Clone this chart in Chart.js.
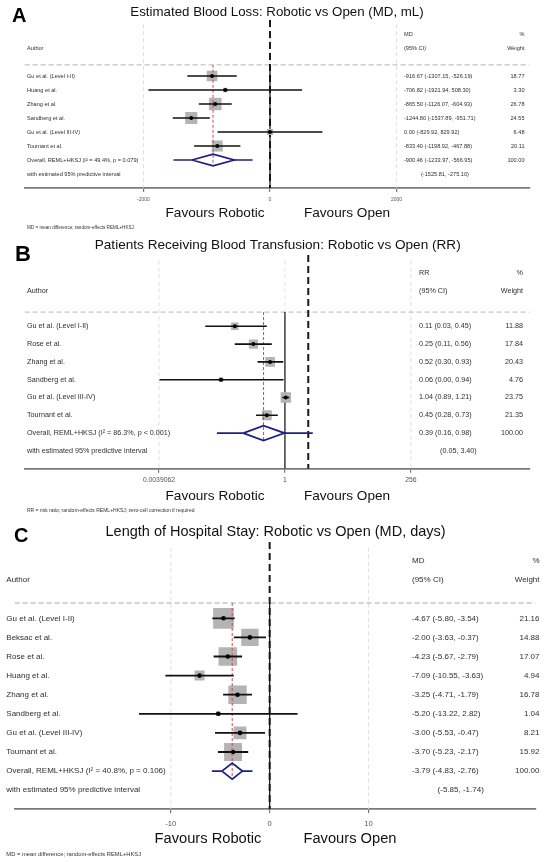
<!DOCTYPE html>
<html>
<head>
<meta charset="utf-8">
<script src="https://cdn.jsdelivr.net/npm/chart.js@4.4.1/dist/chart.umd.min.js"></script>
<style>
  body { margin: 0; background: #fff; }
  #wrap { position: relative; width: 550px; height: 862px; overflow: hidden; }
  canvas { position: absolute; left: 0; }
</style>
</head>
<body>
<div id="wrap">
  <canvas id="chartA" width="550" height="240" style="top:0px"></canvas>
  <canvas id="chartB" width="550" height="280" style="top:240px"></canvas>
  <canvas id="chartC" width="550" height="342" style="top:520px"></canvas>
</div>
<script>
// A - estimated blood loss (MD, mL)
var bloodLossStudies = ['Gu et al. (Level I-II)', 'Huang et al.', 'Zhang et al.', 'Sandberg et al.', 'Gu et al. (Level III-IV)', 'Tournant et al.'];
var bloodLossMD = [-916.67, -706.82, -865.50, -1244.80, 0.00, -833.40];
var bloodLossLow = [-1307.15, -1921.94, -1126.07, -1537.89, -829.92, -1198.92];
var bloodLossHigh = [-526.19, 508.30, -604.93, -951.71, 829.92, -467.88];
var bloodLossWeight = [18.77, 3.30, 26.78, 24.55, 6.48, 20.11];
var bloodLossOverall = [-900.46, -1233.97, -566.95];
var bloodLossPI = [-1525.81, -275.10];
var bloodLossTicks = [-2000, 0, 2000];
var bloodLossTickLabels = ['-2000', '0', '2000'];

// B - patients receiving blood transfusion (RR)
var transfusionStudies = ['Gu et al. (Level I-II)', 'Rose et al.', 'Zhang et al.', 'Sandberg et al.', 'Gu et al. (Level III-IV)', 'Tournant et al.'];
var transfusionRR = [0.11, 0.25, 0.52, 0.06, 1.04, 0.45];
var transfusionLow = [0.03, 0.11, 0.30, 0.004, 0.89, 0.28];
var transfusionHigh = [0.45, 0.56, 0.93, 0.94, 1.21, 0.73];
var transfusionWeight = [11.88, 17.84, 20.43, 4.76, 23.75, 21.35];
var transfusionOverall = [0.39, 0.16, 0.98];
var transfusionPI = [0.05, 3.40];
var transfusionTicks = [0.00390625, 1, 256];
var transfusionTickLabels = ['0.0039062', '1', '256'];

// C - length of hospital stay (MD, days)
var stayStudies = ['Gu et al. (Level I-II)', 'Beksac et al.', 'Rose et al.', 'Huang et al.', 'Zhang et al.', 'Sandberg et al.', 'Gu et al. (Level III-IV)', 'Tournant et al.'];
var stayMD = [-4.67, -2.00, -4.23, -7.09, -3.25, -5.20, -3.00, -3.70];
var stayLow = [-5.80, -3.63, -5.67, -10.55, -4.71, -13.22, -5.53, -5.23];
var stayHigh = [-3.54, -0.37, -2.79, -3.63, -1.79, 2.82, -0.47, -2.17];
var stayWeight = [21.16, 14.88, 17.07, 4.94, 16.78, 1.04, 8.21, 15.92];
var stayOverall = [-3.79, -4.83, -2.76];
var stayPI = [-5.85, -1.74];
var stayTicks = [-10, 0, 10];
var stayTickLabels = ['-10', '0', '10'];

var FONT = '"Liberation Sans", Arial, sans-serif';
var NAVY = '#1f1f8a';

function seg(x1, y1, x2, y2, color, width, dash) {
    return {
        data: [{ x: x1, y: y1 }, { x: x2, y: y2 }],
        showLine: true,
        borderColor: color,
        borderWidth: width,
        borderDash: dash || [],
        pointRadius: 0,
        fill: false
    };
}

function ciText(e, l, h) {
    return e.toFixed(2) + ' (' + l.toFixed(2) + ', ' + h.toFixed(2) + ')';
}

function forest(id, p) {
    var n = p.studies.length;
    var ds = [];
    // light grid lines at the ticks
    p.ticks.forEach(function (t) {
        ds.push(seg(t, -3.7, t, n + 2, '#d8d8d8', 0.8, [4, 3]));
    });
    // dashed line under the header
    ds.push(seg(p.xMin, -0.8, p.xMax, -0.8, '#c4c4c4', 1.3, [5, 3]));
    // thick dashed separator
    ds.push(seg(p.sep, -4, p.sep, n + 2, '#1a1a1a', 2, [7, 4]));
    // line of no effect
    ds.push(seg(p.nullX, -0.8, p.nullX, n + 2, '#111', 1.2));
    // boxes sized by weight
    ds.push({
        data: p.est.map(function (v, i) { return { x: v, y: i }; }),
        pointStyle: 'rect',
        pointRadius: p.weight.map(function (w) { return p.boxK * Math.sqrt(w) / Math.SQRT2; }),
        backgroundColor: '#b4b4b4',
        pointBackgroundColor: '#b4b4b4',
        pointBorderWidth: 0
    });
    // overall estimate line
    ds.push(seg(p.overall[0], -0.8, p.overall[0], n + 0.42, '#cc4a52', 1, [3, 2]));
    // confidence intervals
    p.est.forEach(function (v, i) {
        ds.push(seg(p.low[i], i, p.high[i], i, '#111', p.lineW));
    });
    ds.push({
        data: p.est.map(function (v, i) { return { x: v, y: i }; }),
        pointStyle: 'circle',
        pointRadius: p.dotR,
        backgroundColor: '#000',
        pointBackgroundColor: '#000',
        pointBorderWidth: 0
    });
    // predictive interval + diamond
    ds.push(seg(p.pi[0], n, p.overall[1], n, NAVY, 1.6));
    ds.push(seg(p.overall[2], n, p.pi[1], n, NAVY, 1.6));
    ds.push({
        data: [
            { x: p.overall[1], y: n },
            { x: p.overall[0], y: n - 0.42 },
            { x: p.overall[2], y: n },
            { x: p.overall[0], y: n + 0.42 },
            { x: p.overall[1], y: n }
        ],
        showLine: true,
        borderColor: NAVY,
        borderWidth: 1.8,
        pointRadius: 0,
        tension: 0
    });
    ds.forEach(function (d, i) { d.order = -i; });

    var textPlugin = {
        id: 'forestText',
        afterDraw: function (chart) {
            var ctx = chart.ctx;
            var ys = chart.scales.y;
            var bottom = chart.chartArea.bottom;
            ctx.save();
            ctx.textBaseline = 'middle';
            ctx.fillStyle = '#000';
            ctx.textAlign = 'left';
            ctx.font = 'bold ' + p.letterFont + 'px ' + FONT;
            ctx.fillText(p.letter, p.letterX, p.letterY);
            ctx.textAlign = 'center';
            ctx.font = p.titleFont + 'px ' + FONT;
            ctx.fillStyle = '#111';
            ctx.fillText(p.title, p.titleX, p.titleY);

            ctx.font = p.rowFont + 'px ' + FONT;
            ctx.fillStyle = '#2e2e2e';
            var h1 = ys.getPixelForValue(-3), h2 = ys.getPixelForValue(-2);
            ctx.textAlign = 'left';
            ctx.fillText(p.effect, p.ciX, h1);
            ctx.fillText('Author', p.authorX, h2);
            ctx.fillText('(95% CI)', p.ciX, h2);
            ctx.textAlign = 'right';
            ctx.fillText('%', p.wtX, h1);
            ctx.fillText('Weight', p.wtX, h2);
            for (var i = 0; i < n; i++) {
                var y = ys.getPixelForValue(i);
                ctx.textAlign = 'left';
                ctx.fillText(p.studies[i], p.authorX, y);
                ctx.fillText(ciText(p.est[i], p.low[i], p.high[i]), p.ciX, y);
                ctx.textAlign = 'right';
                ctx.fillText(p.weight[i].toFixed(2), p.wtX, y);
            }
            var yo = ys.getPixelForValue(n), yp = ys.getPixelForValue(n + 1);
            ctx.textAlign = 'left';
            ctx.fillText(p.overallLabel, p.authorX, yo);
            ctx.fillText(ciText(p.overall[0], p.overall[1], p.overall[2]), p.ciX, yo);
            ctx.fillText('with estimated 95% predictive interval', p.authorX, yp);
            ctx.fillText('(' + p.pi[0].toFixed(2) + ', ' + p.pi[1].toFixed(2) + ')', p.piX, yp);
            ctx.textAlign = 'right';
            ctx.fillText((100).toFixed(2), p.wtX, yo);

            ctx.textAlign = 'center';
            ctx.fillStyle = '#111';
            ctx.font = p.favFont + 'px ' + FONT;
            ctx.fillText('Favours Robotic', p.favL, bottom + p.favDy);
            ctx.fillText('Favours Open', p.favR, bottom + p.favDy);

            ctx.textAlign = 'left';
            ctx.fillStyle = '#333';
            ctx.font = p.noteFont + 'px ' + FONT;
            ctx.fillText(p.footnote, p.authorX, bottom + p.noteDy);
            ctx.restore();
        }
    };

    return new Chart(document.getElementById(id), {
        type: 'scatter',
        data: { datasets: ds },
        options: {
            responsive: false,
            animation: false,
            events: [],
            layout: { padding: { left: p.pad[0], right: p.pad[1], top: p.pad[2], bottom: 0 } },
            plugins: { legend: { display: false }, tooltip: { enabled: false } },
            scales: {
                x: {
                    type: p.xType,
                    position: 'bottom',
                    min: p.xMin,
                    max: p.xMax,
                    bounds: 'data',
                    grid: { display: true, drawOnChartArea: false, drawTicks: true, tickLength: 4, color: '#7a7a7a', lineWidth: 1.2 },
                    border: { display: true, color: '#7a7a7a', width: 1.8 },
                    afterBuildTicks: function (scale) {
                        scale.ticks = p.ticks.map(function (v) { return { value: v }; });
                    },
                    afterFit: function (scale) { scale.height = p.axisH; },
                    ticks: {
                        autoSkip: false,
                        maxRotation: 0,
                        padding: p.tickPad,
                        color: '#555',
                        font: { family: FONT, size: p.tickFont },
                        callback: function (v, i) { return p.tickLabels[i]; }
                    }
                },
                y: { type: 'linear', display: false, reverse: true, min: -4, max: n + 2 }
            }
        },
        plugins: [textPlugin]
    });
}

forest('chartA', {
    studies: bloodLossStudies, est: bloodLossMD, low: bloodLossLow, high: bloodLossHigh,
    weight: bloodLossWeight, overall: bloodLossOverall, pi: bloodLossPI,
    ticks: bloodLossTicks, tickLabels: bloodLossTickLabels,
    letter: 'A', title: 'Estimated Blood Loss: Robotic vs Open (MD, mL)', effect: 'MD',
    overallLabel: 'Overall, REML+HKSJ (I\u00b2 = 49.4%, p = 0.079)',
    footnote: 'MD = mean difference; random-effects REML+HKSJ',
    xType: 'linear', xMin: -3880, xMax: 4103, sep: 0, nullX: 0,
    pad: [24.6, 20.5, 20], axisH: 52, tickPad: 4.3, tickFont: 5,
    letterFont: 20, letterX: 12, letterY: 16, titleFont: 13.3, titleX: 277, titleY: 12.7,
    rowFont: 5.6, authorX: 27, ciX: 404, wtX: 524.5, piX: 421,
    favFont: 13.6, favDy: 25.3, favL: 215, favR: 347, noteFont: 4.6, noteDy: 39.7,
    boxK: 2.45, lineW: 1.5, dotR: 2
});

forest('chartB', {
    studies: transfusionStudies, est: transfusionRR, low: transfusionLow, high: transfusionHigh,
    weight: transfusionWeight, overall: transfusionOverall, pi: transfusionPI,
    ticks: transfusionTicks, tickLabels: transfusionTickLabels,
    letter: 'B', title: 'Patients Receiving Blood Transfusion: Robotic vs Open (RR)', effect: 'RR',
    overallLabel: 'Overall, REML+HKSJ (I\u00b2 = 86.3%, p < 0.001)',
    footnote: 'RR = risk ratio; random-effects REML+HKSJ; zero-cell correction if required',
    xType: 'logarithmic', xMin: Math.pow(2, -16.53), xMax: Math.pow(2, 15.54), sep: 2.79, nullX: 1,
    pad: [24.6, 20.3, 15.1], axisH: 51.3, tickPad: 3.8, tickFont: 6.8,
    letterFont: 22, letterX: 15, letterY: 15, titleFont: 13.6, titleX: 277.7, titleY: 5.7,
    rowFont: 7.2, authorX: 27, ciX: 419, wtX: 523, piX: 440,
    favFont: 13.6, favDy: 27.3, favL: 215, favR: 347, noteFont: 5, noteDy: 42,
    boxK: 2.15, lineW: 1.6, dotR: 2
});

forest('chartC', {
    studies: stayStudies, est: stayMD, low: stayLow, high: stayHigh,
    weight: stayWeight, overall: stayOverall, pi: stayPI,
    ticks: stayTicks, tickLabels: stayTickLabels,
    letter: 'C', title: 'Length of Hospital Stay: Robotic vs Open (MD, days)', effect: 'MD',
    overallLabel: 'Overall, REML+HKSJ (I\u00b2 = 40.8%, p = 0.106)',
    footnote: 'MD = mean difference; random-effects REML+HKSJ',
    xType: 'linear', xMin: -25.8, xMax: 26.88, sep: 0, nullX: 0,
    pad: [3.5, 6, 21.9], axisH: 52.7, tickPad: 6, tickFont: 7.6,
    letterFont: 20, letterX: 14, letterY: 16, titleFont: 14.5, titleX: 275.6, titleY: 11.7,
    rowFont: 8, authorX: 6.3, ciX: 412, wtX: 539.5, piX: 437.6,
    favFont: 14.7, favDy: 30, favL: 208, favR: 350, noteFont: 5.8, noteDy: 45,
    boxK: 4.5, lineW: 1.8, dotR: 2.3
});
</script>
</body>
</html>
